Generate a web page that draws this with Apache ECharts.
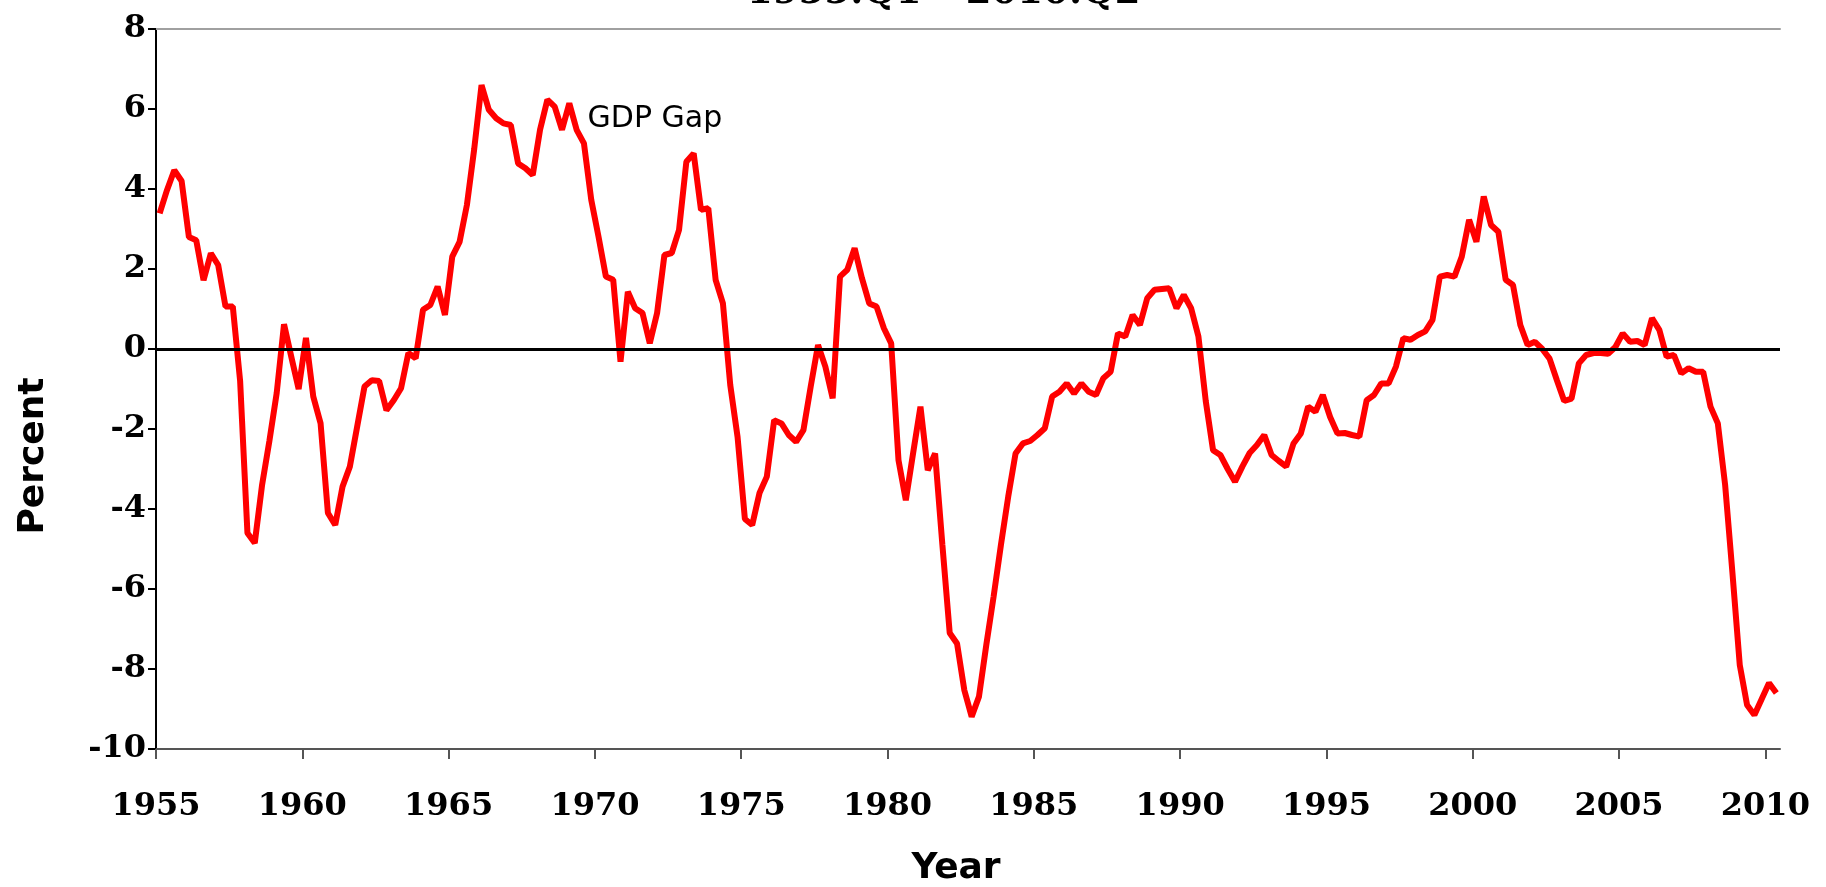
<!DOCTYPE html>
<html>
<head>
<meta charset="utf-8">
<title>GDP Gap 1955:Q1 - 2010:Q2</title>
<script src="https://cdn.jsdelivr.net/npm/echarts@6/dist/echarts.min.js"></script>
<style>
  html, body { margin: 0; padding: 0; background: #fff; }
  #chart { width: 1826px; height: 887px; }
</style>
</head>
<body>
<div id="chart"></div>
<script>
// quarterly GDP gap, percent
const startYear = 1955
const tickYears = [1955, 1960, 1965, 1970, 1975, 1980, 1985, 1990, 1995, 2000, 2005, 2010]
const gap1955s = [3.39, 3.97, 4.47, 4.2, 2.8, 2.72, 1.72, 2.39, 2.1, 1.06,
  1.06, -0.8, -4.6, -4.85, -3.4, -2.3, -1.1, 0.62, -0.2, -1.0]
const gap1960s = [0.28, -1.19, -1.86, -4.1, -4.4, -3.44, -2.94, -1.94, -0.94, -0.78,
  -0.8, -1.53, -1.28, -0.98, -0.1, -0.23, 0.98, 1.1, 1.56, 0.85,
  2.31, 2.68, 3.6, 5.0, 6.6, 5.98, 5.77, 5.64, 5.6, 4.64,
  4.52, 4.35, 5.48, 6.23, 6.06, 5.48, 6.14, 5.48, 5.14, 3.73]
const gap1970s = [2.8, 1.81, 1.73, -0.32, 1.43, 1.02, 0.9, 0.14, 0.9, 2.35,
  2.4, 2.98, 4.68, 4.89, 3.48, 3.52, 1.73, 1.14, -0.9, -2.2,
  -4.25, -4.4, -3.6, -3.19, -1.78, -1.86, -2.15, -2.32, -2.03, -0.94,
  0.1, -0.44, -1.23, 1.81, 1.98, 2.52, 1.77, 1.14, 1.06, 0.52]
const gap1980s = [0.14, -2.78, -3.78, -2.6, -1.44, -3.03, -2.61, -4.9, -7.1, -7.36,
  -8.53, -9.19, -8.69, -7.4, -6.19, -4.9, -3.69, -2.61, -2.36, -2.3,
  -2.15, -1.98, -1.19, -1.07, -0.86, -1.11, -0.86, -1.07, -1.15, -0.73,
  -0.57, 0.39, 0.31, 0.85, 0.6, 1.27, 1.48, 1.5, 1.52, 1.02]
const gap1990s = [1.35, 1.02, 0.31, -1.3, -2.53, -2.65, -3.0, -3.32, -2.94, -2.6,
  -2.4, -2.15, -2.65, -2.8, -2.94, -2.36, -2.11, -1.44, -1.57, -1.15,
  -1.7, -2.11, -2.1, -2.15, -2.19, -1.28, -1.15, -0.86, -0.86, -0.44,
  0.27, 0.23, 0.35, 0.44, 0.73, 1.81, 1.85, 1.81, 2.31, 3.23]
const gap2000s = [2.68, 3.81, 3.1, 2.93, 1.73, 1.6, 0.6, 0.1, 0.18, 0.0,
  -0.24, -0.78, -1.3, -1.24, -0.36, -0.15, -0.1, -0.1, -0.12, 0.05,
  0.39, 0.18, 0.2, 0.1, 0.77, 0.48, -0.19, -0.15, -0.61, -0.48,
  -0.57, -0.57, -1.44, -1.86, -3.4, -5.6, -7.9, -8.9, -9.15, -8.75]
const gap2010s = [-8.35, -8.6]

const gapValues = [].concat(gap1955s, gap1960s, gap1970s, gap1980s, gap1990s, gap2000s, gap2010s)
// each quarter sits in the middle of its slot
const gapSeries = gapValues.map((v, i) => [startYear + (i + 0.5) / 4, v])

const serif = '"DejaVu Serif", "Liberation Serif", serif'
const sans = '"DejaVu Sans", Verdana, sans-serif'

const chart = echarts.init(document.getElementById('chart'))
chart.setOption({
  animation: false,
  backgroundColor: '#fff',
  title: {
    text: '1955:Q1 \u2013 2010:Q2',
    left: 742,
    top: -30,
    textStyle: { fontFamily: serif, fontWeight: 'bold', fontSize: 37, color: '#000' }
  },
  grid: { left: 156, right: 46, top: 29, bottom: 138, outerBoundsMode: 'none' },
  xAxis: [{
    type: 'value',
    min: 1955,
    max: 2010.5,
    interval: 5,
    name: 'Year',
    nameLocation: 'middle',
    nameGap: 102,
    nameTextStyle: {
      fontFamily: sans, fontWeight: 'bold', fontSize: 36, color: '#000',
      padding: [0, 24, 0, 0]
    },
    splitLine: { show: false },
    axisLine: { onZero: false, lineStyle: { color: '#555', width: 2 } },
    axisTick: { show: true, length: 10, customValues: tickYears, lineStyle: { color: '#555', width: 2 } },
    axisLabel: {
      margin: 42,
      customValues: tickYears,
      formatter: (v) => String(v),
      fontFamily: serif, fontWeight: 'bold', fontSize: 32, color: '#000'
    }
  }, {
    // plain grey frame line along the top
    type: 'value',
    position: 'top',
    min: 1955,
    max: 2010.5,
    axisLine: { show: true, onZero: false, lineStyle: { color: '#a0a0a0', width: 2 } },
    axisTick: { show: false },
    axisLabel: { show: false },
    splitLine: { show: false }
  }],
  yAxis: {
    type: 'value',
    min: -10,
    max: 8,
    interval: 2,
    name: 'Percent',
    nameLocation: 'middle',
    nameGap: 104,
    nameRotate: 90,
    nameTextStyle: {
      fontFamily: sans, fontWeight: 'bold', fontSize: 36, color: '#000',
      padding: [0, 134, 0, 0]
    },
    splitLine: { show: false },
    axisLine: { show: true, lineStyle: { color: '#000', width: 2 } },
    axisTick: { show: true, length: 8, lineStyle: { color: '#000', width: 2 } },
    axisLabel: { margin: 10, fontFamily: serif, fontWeight: 'bold', fontSize: 32, color: '#000' }
  },
  series: [{
    name: 'GDP Gap',
    type: 'line',
    data: gapSeries,
    symbol: 'none',
    lineStyle: { color: '#ff0000', width: 6 },
    markLine: {
      silent: true,
      symbol: 'none',
      label: { show: false },
      lineStyle: { color: '#000', width: 3, type: 'solid' },
      data: [{ yAxis: 0 }]
    },
    markPoint: {
      silent: true,
      symbol: 'circle',
      symbolSize: 0,
      label: {
        show: true,
        position: 'right',
        distance: 0,
        formatter: 'GDP Gap',
        fontFamily: sans, fontSize: 30, color: '#000'
      },
      data: [{ coord: [1969.75, 5.75] }]
    }
  }]
})
</script>
</body>
</html>
